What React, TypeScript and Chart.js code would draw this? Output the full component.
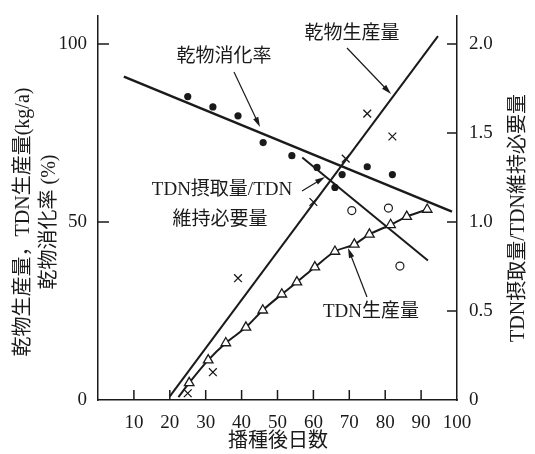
import React, { useEffect, useRef } from 'react';
import { Chart, registerables } from 'chart.js';

Chart.register(...registerables);

// 乾物消化率 (%) – filled dots and fitted line
const digestDays = [25, 32, 39, 46, 54, 61, 66, 68, 75, 82];
const digestValues = [85.2, 82.3, 79.8, 72.3, 68.6, 65.3, 59.7, 63.3, 65.5, 63.3];
const digestFitDays = [7.2, 98.6];
const digestFitValues = [90.8, 52.9];

// 乾物生産量 (kg/a) – crosses and fitted line
const dryDays = [25, 32, 39, 60, 69, 75, 82];
const dryValues = [1.9, 7.8, 34.2, 55.6, 67.8, 80.4, 74.0];
const dryFitDays = [20, 94.7];
const dryFitValues = [1, 102.2];

// TDN生産量 (kg/a) – curve with triangles (first point = curve start, no marker)
const tdnDays = [22.4, 25.4, 30.7, 35.6, 41.2, 45.9, 51.2, 55.4, 60.4, 66, 71.4, 75.6, 81.5, 86, 91.7];
const tdnValues = [0.8, 4.8, 11.2, 16, 20.4, 25.2, 29.7, 33.1, 37.3, 41.7, 43.7, 46.5, 49.2, 51.5, 53.5];

// TDN摂取量/TDN維持必要量 – open circles and fitted line (right axis)
const ratioDays = [70.7, 80.9, 84.1];
const ratioValues = [1.064, 1.078, 0.752];
const ratioFitDays = [56.9, 91.9];
const ratioFitValues = [1.362, 0.784];

const FONT = '"Liberation Serif", "Noto Sans CJK JP", serif';
const INK = '#1a1a1a';

const pts = (xs: number[], ys: number[]) => xs.map((x, i) => ({ x, y: ys[i] }));

function arrow(ctx: CanvasRenderingContext2D, x1: number, y1: number, x2: number, y2: number) {
  const ang = Math.atan2(y2 - y1, x2 - x1);
  const hl = 10, hw = 2.8;
  ctx.beginPath();
  ctx.moveTo(x1, y1);
  ctx.lineTo(x2 - Math.cos(ang) * hl * 0.8, y2 - Math.sin(ang) * hl * 0.8);
  ctx.lineWidth = 1.2;
  ctx.stroke();
  ctx.beginPath();
  ctx.moveTo(x2, y2);
  ctx.lineTo(x2 - Math.cos(ang) * hl - Math.sin(ang) * hw, y2 - Math.sin(ang) * hl + Math.cos(ang) * hw);
  ctx.lineTo(x2 - Math.cos(ang) * hl + Math.sin(ang) * hw, y2 - Math.sin(ang) * hl - Math.cos(ang) * hw);
  ctx.closePath();
  ctx.fill();
}

const overlay = {
  id: 'overlay',
  afterDraw(chart: any) {
    const ctx: CanvasRenderingContext2D = chart.ctx;
    const ca = chart.chartArea;
    const xs = chart.scales.x, ys = chart.scales.y, y2 = chart.scales.y2;
    ctx.save();
    ctx.strokeStyle = INK;
    ctx.fillStyle = INK;
    ctx.lineWidth = 1.5;
    // inward tick marks
    ctx.beginPath();
    xs.ticks.forEach((t: any) => {
      if (t.value > 0 && t.value < 100) {
        const px = xs.getPixelForValue(t.value);
        ctx.moveTo(px, ca.bottom);
        ctx.lineTo(px, ca.bottom - 10);
      }
    });
    ys.ticks.forEach((t: any) => {
      if (t.value > 0) {
        const py = ys.getPixelForValue(t.value);
        ctx.moveTo(ca.left, py);
        ctx.lineTo(ca.left + 11, py);
      }
    });
    y2.ticks.forEach((t: any) => {
      if (t.value > 0) {
        const py = y2.getPixelForValue(t.value);
        ctx.moveTo(ca.right, py);
        ctx.lineTo(ca.right - 10, py);
      }
    });
    ctx.stroke();

    // annotations
    ctx.font = `19px ${FONT}`;
    ctx.textAlign = 'center';
    ctx.textBaseline = 'middle';
    ctx.fillText('乾物消化率', 224, 57);
    ctx.fillText('乾物生産量', 352, 34);
    ctx.fillText('TDN摂取量/TDN', 222, 190);
    ctx.fillText('維持必要量', 220, 220);
    ctx.fillText('TDN生産量', 371, 312);
    arrow(ctx, 234, 72, 260, 127);
    arrow(ctx, 347, 48, 391, 94);
    arrow(ctx, 302, 191, 325, 177);
    arrow(ctx, 367, 297, 348, 248);

    // axis titles
    ctx.font = `20px ${FONT}`;
    ctx.fillText('播種後日数', 278, 442);
    const rot = (text: string, x: number, y: number) => {
      ctx.save();
      ctx.translate(x, y);
      ctx.rotate(-Math.PI / 2);
      ctx.fillText(text, 0, 0);
      ctx.restore();
    };
    rot('乾物生産量，TDN生産量(kg/a)', 24, 222);
    rot('乾物消化率 (%)', 50, 222);
    rot('TDN摂取量/TDN維持必要量', 519, 218);
    ctx.restore();
  },
};

export default function App() {
  const ref = useRef<HTMLCanvasElement>(null);
  useEffect(() => {
    document.body.style.margin = '0';
    const tickFont = { family: FONT, size: 19 };
    const chart = new Chart(ref.current!, {
      type: 'scatter',
      data: {
        datasets: [
          {
            data: pts(tdnDays, tdnValues),
            showLine: true,
            borderColor: INK,
            borderWidth: 2,
            pointStyle: 'triangle',
            pointRadius: tdnDays.map((_, i) => (i === 0 ? 0 : 5.5)),
            pointBorderWidth: 1.3,
            pointBackgroundColor: '#fff',
            pointBorderColor: INK,
            cubicInterpolationMode: 'monotone',
            yAxisID: 'y',
          },
          {
            data: pts(digestDays, digestValues),
            pointStyle: 'circle',
            pointRadius: 3.6,
            pointBackgroundColor: INK,
            pointBorderColor: INK,
            borderWidth: 0,
            yAxisID: 'y',
          },
          {
            data: pts(dryDays, dryValues),
            pointStyle: 'crossRot',
            pointRadius: 5.5,
            pointBorderColor: INK,
            pointBorderWidth: 1.3,
            yAxisID: 'y',
          },
          {
            data: pts(ratioDays, ratioValues),
            pointStyle: 'circle',
            pointRadius: 4,
            pointBackgroundColor: '#fff',
            pointBorderColor: INK,
            pointBorderWidth: 1.2,
            yAxisID: 'y2',
          },
          {
            data: pts(digestFitDays, digestFitValues),
            showLine: true,
            borderColor: INK,
            borderWidth: 2.5,
            pointRadius: 0,
            yAxisID: 'y',
          },
          {
            data: pts(dryFitDays, dryFitValues),
            showLine: true,
            borderColor: INK,
            borderWidth: 2,
            pointRadius: 0,
            yAxisID: 'y',
          },
          {
            data: pts(ratioFitDays, ratioFitValues),
            showLine: true,
            borderColor: INK,
            borderWidth: 2,
            pointRadius: 0,
            yAxisID: 'y2',
          },
        ],
      },
      options: {
        responsive: false,
        animation: false,
        events: [],
        layout: { padding: { top: 14, left: 0, right: 0, bottom: 0 } },
        plugins: { legend: { display: false }, tooltip: { enabled: false } },
        scales: {
          x: {
            type: 'linear',
            min: 0,
            max: 100,
            grid: { display: false },
            border: { display: true, color: INK, width: 1.5 },
            ticks: {
              stepSize: 10,
              autoSkip: false,
              maxRotation: 0,
              padding: 4,
              color: INK,
              font: tickFont,
              callback: (v: any) => (v === 0 ? '' : String(v)),
            },
            afterFit: (s: any) => { s.height = 54; },
          },
          y: {
            type: 'linear',
            position: 'left',
            min: 0,
            max: 108,
            grid: { display: false },
            border: { display: true, color: INK, width: 1.5 },
            ticks: {
              stepSize: 50,
              includeBounds: false,
              padding: 3,
              color: INK,
              font: tickFont,
              callback: (v: any) => String(v),
            },
            afterFit: (s: any) => { s.width = 98; },
          },
          y2: {
            type: 'linear',
            position: 'right',
            min: 0,
            max: 2.16,
            grid: { display: false },
            border: { display: true, color: INK, width: 1.5 },
            ticks: {
              stepSize: 0.5,
              includeBounds: false,
              padding: 4,
              color: INK,
              font: tickFont,
              callback: (v: any) => (v === 0 ? '0' : Number(v).toFixed(1)),
            },
            afterFit: (s: any) => { s.width = 78; },
          },
        },
      },
      plugins: [overlay],
    } as any);
    return () => chart.destroy();
  }, []);
  return <canvas ref={ref} width={535} height={454} style={{ display: 'block' }} />;
}
